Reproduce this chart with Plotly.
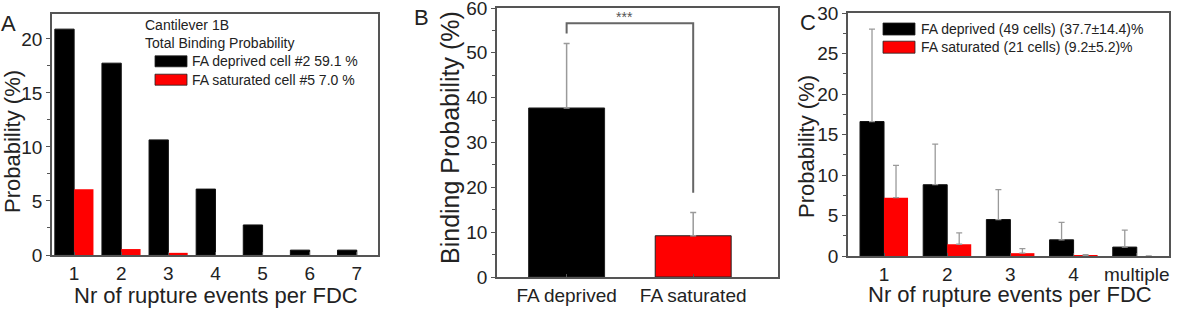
import plotly.graph_objects as go

# ---------------- data ----------------
# Panel A
a_events = [1, 2, 3, 4, 5, 6, 7]
a_deprived = [20.9, 17.75, 10.65, 6.1, 2.78, 0.45, 0.45]
a_saturated = [6.08, 0.55, 0.2, 0, 0, 0, 0]
a_names = ["FA deprived cell #2 59.1 %", "FA saturated cell #5 7.0 %"]
a_header = ["Cantilever 1B", "Total Binding Probability"]

# Panel B
b_groups = ["FA deprived", "FA saturated"]
b_values = [37.7, 9.2]
b_errors = [14.4, 5.2]
b_sig = "***"
b_bracket = [54.3, 56.6, 18.8]  # left foot, top, right foot

# Panel C
c_events = ["1", "2", "3", "4", "multiple"]
c_deprived = [16.6, 8.8, 4.5, 2.0, 1.1]
c_deprived_err = [11.4, 5.0, 3.7, 2.15, 2.1]
c_saturated = [7.2, 1.45, 0.35, 0.08, 0]
c_saturated_err = [4.0, 1.4, 0.55, 0.1, None]
c_names = ["FA deprived (49 cells) (37.7±14.4)%", "FA saturated (21 cells) (9.2±5.2)%"]

panel_labels = ["A", "B", "C"]
x_title = "Nr of rupture events per FDC"
y_titles = ["Probability (%)", "Binding Probability (%)", "Probability (%)"]

# ---------------- style ----------------
W, H = 1181, 309
FONT = "Arial, 'Liberation Sans', sans-serif"
TXT = "#222222"
AX = "#555555"
BLACK = "#000000"
RED = "#ff0000"
ERR = "#9a9a9a"


def px(x):
    return x / W


def py(y):
    return 1 - y / H


fig = go.Figure()

# Panel A bars
fig.add_trace(go.Bar(x=a_events, y=a_deprived, width=0.41, offset=-0.41,
                     marker=dict(color=BLACK, line=dict(color="#111", width=1)),
                     xaxis="x", yaxis="y", showlegend=False))
fig.add_trace(go.Bar(x=a_events, y=a_saturated, width=0.41, offset=0,
                     marker=dict(color=RED, line=dict(width=0)),
                     xaxis="x", yaxis="y", showlegend=False))

# Panel B bars
fig.add_trace(go.Bar(x=b_groups, y=b_values, width=0.6,
                     marker=dict(color=[BLACK, RED], line=dict(color="#222", width=1)),
                     error_y=dict(type="data", array=b_errors, arrayminus=[0, 0],
                                  symmetric=False, color=ERR, thickness=1.5, width=3),
                     xaxis="x2", yaxis="y2", showlegend=False))

# Panel C bars
fig.add_trace(go.Bar(x=c_events, y=c_deprived, width=0.38, offset=-0.38,
                     marker=dict(color=BLACK, line=dict(color="#111", width=1)),
                     error_y=dict(type="data", array=c_deprived_err,
                                  arrayminus=[0] * len(c_events), symmetric=False,
                                  color=ERR, thickness=1.3, width=3),
                     xaxis="x3", yaxis="y3", showlegend=False))
fig.add_trace(go.Bar(x=c_events, y=c_saturated, width=0.38, offset=0,
                     marker=dict(color=RED, line=dict(width=0)),
                     error_y=dict(type="data", array=c_saturated_err,
                                  arrayminus=[0] * len(c_events), symmetric=False,
                                  color=ERR, thickness=1.3, width=3),
                     xaxis="x3", yaxis="y3", showlegend=False))

axis_common = dict(showline=True, mirror=True, linecolor=AX, linewidth=1.5,
                   showgrid=False, zeroline=False,
                   tickcolor=AX, tickwidth=1.2, automargin=False,
                   ticklabeloverflow="allow",
                   tickfont=dict(family=FONT, size=19, color=TXT))
xax = dict(ticks="inside", ticklen=3, **axis_common)
yax = dict(ticks="outside", ticklen=4, **axis_common)

fig.update_layout(
    template="none",
    width=W, height=H,
    margin=dict(l=0, r=0, t=0, b=0, pad=0, autoexpand=False),
    paper_bgcolor="white", plot_bgcolor="white",
    barmode="overlay",
    font=dict(family=FONT, color=TXT),
    xaxis=dict(domain=[px(52), px(378)], range=[0.53, 7.45], tickvals=a_events,
               anchor="y", **xax),
    yaxis=dict(domain=[py(255), py(14)], range=[0, 22.3], dtick=5,
               minor=dict(ticks="outside", ticklen=3, dtick=2.5, tickcolor=AX),
               anchor="x", **yax),
    xaxis2=dict(domain=[px(497), px(778)], range=[-0.55, 1.67], type="category",
                anchor="y2", **xax),
    yaxis2=dict(domain=[py(277), py(8)], range=[0, 60], dtick=10,
                minor=dict(ticks="outside", ticklen=3, dtick=5, tickcolor=AX),
                anchor="x2", **yax),
    xaxis3=dict(domain=[px(848), px(1169)], range=[-0.57, 4.51], type="category",
                anchor="y3", **xax),
    yaxis3=dict(domain=[py(256), py(13)], range=[0, 30], dtick=5,
                minor=dict(ticks="outside", ticklen=3, dtick=2.5, tickcolor=AX),
                anchor="x3", **yax),
)

ann = []
# panel letters
for lab, (x, y) in zip(panel_labels, [(8, 24), (421, 17), (808, 22)]):
    ann.append(dict(text=lab, x=px(x), y=py(y), xref="paper", yref="paper",
                    showarrow=False, font=dict(size=22, color=TXT, family=FONT),
                    xanchor="center", yanchor="middle"))
# y titles
for t, (x, y), s in zip(y_titles, [(12, 142), (450, 138), (806, 147)], [22, 25, 22]):
    ann.append(dict(text=t, x=px(x), y=py(y), xref="paper", yref="paper",
                    showarrow=False, textangle=-90, font=dict(size=s, color=TXT, family=FONT),
                    xanchor="center", yanchor="middle"))
# x titles
for (x, y) in [(216, 295), (1010, 294)]:
    ann.append(dict(text=x_title, x=px(x), y=py(y), xref="paper", yref="paper",
                    showarrow=False, font=dict(size=22, color=TXT, family=FONT),
                    xanchor="center", yanchor="middle"))

# Panel A legend
for i, t in enumerate(a_header):
    ann.append(dict(text=t, x=px(143), y=py(25 + 18 * i), xref="paper", yref="paper",
                    showarrow=False, font=dict(size=14, color=TXT, family=FONT),
                    xanchor="left", yanchor="middle"))
shapes = []
for i, (t, c) in enumerate(zip(a_names, [BLACK, RED])):
    yc = 61.3 + 18.4 * i
    shapes.append(dict(type="rect", xref="paper", yref="paper",
                       x0=px(155), x1=px(187), y0=py(yc + 5.5), y1=py(yc - 5.5),
                       fillcolor=c, line=dict(color="#222", width=0.8)))
    ann.append(dict(text=t, x=px(190), y=py(yc), xref="paper", yref="paper",
                    showarrow=False, font=dict(size=14, color=TXT, family=FONT),
                    xanchor="left", yanchor="middle"))

# Panel C legend
for i, (t, c) in enumerate(zip(c_names, [BLACK, RED])):
    yc = 29 + 18.2 * i
    shapes.append(dict(type="rect", xref="paper", yref="paper",
                       x0=px(883), x1=px(915), y0=py(yc + 6), y1=py(yc - 6),
                       fillcolor=c, line=dict(color="#222", width=0.8)))
    ann.append(dict(text=t, x=px(919), y=py(yc), xref="paper", yref="paper",
                    showarrow=False, font=dict(size=14, color=TXT, family=FONT),
                    xanchor="left", yanchor="middle"))

# Panel B significance bracket
shapes.append(dict(type="path", xref="x2", yref="y2",
                   path=f"M 0,{b_bracket[0]} L 0,{b_bracket[1]} L 1,{b_bracket[1]} L 1,{b_bracket[2]}",
                   line=dict(color="#666", width=2)))
ann.append(dict(text=b_sig, x=0.46, y=b_bracket[1] + 1.4, xref="x2", yref="y2",
                showarrow=False, font=dict(size=14, color="#555", family=FONT),
                xanchor="center", yanchor="middle"))

fig.update_layout(annotations=ann, shapes=shapes)
fig.write_html("out.html")
